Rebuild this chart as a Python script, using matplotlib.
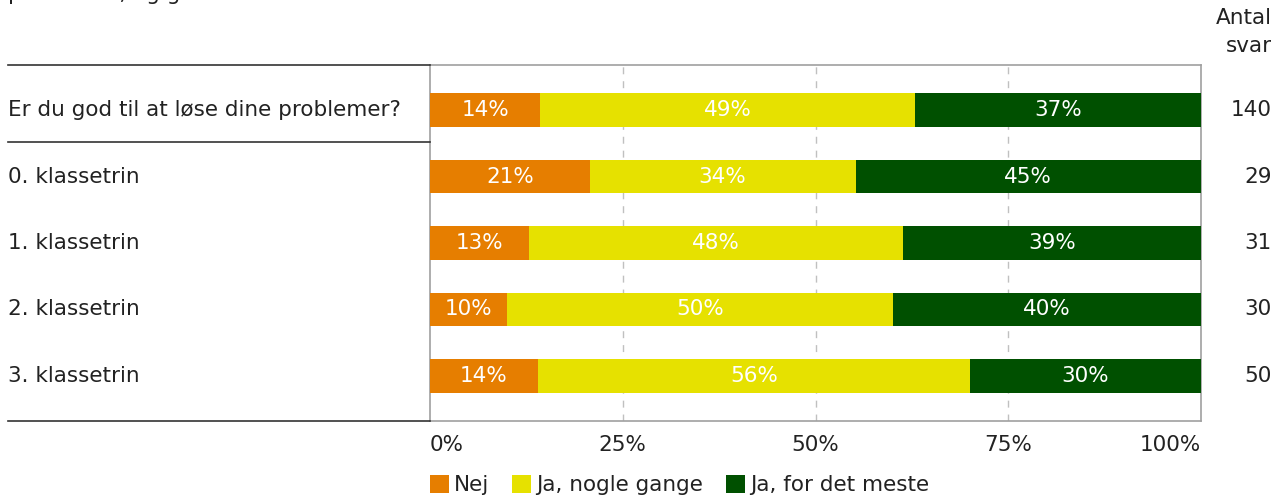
import matplotlib.pyplot as plt
from matplotlib.patches import Patch
from matplotlib.lines import Line2D

# Data
categories = ['Er du god til at løse dine problemer?', '0. klassetrin', '1. klassetrin',
              '2. klassetrin', '3. klassetrin']
nej = [14.3, 20.7, 12.9, 10.0, 14.0]
nogle = [48.6, 34.5, 48.4, 50.0, 56.0]
meste = [37.1, 44.8, 38.7, 40.0, 30.0]
antal = [140, 29, 31, 30, 50]
series_names = ['Nej', 'Ja, nogle gange', 'Ja, for det meste']
colors = ['#e67e00', '#e6e100', '#005000']
xticks = [0, 25, 50, 75, 100]
xticklabels = ['0%', '25%', '50%', '75%', '100%']

FS = 15.5
TXT = '#222222'

fig = plt.figure(figsize=(12.85, 5.0), dpi=100)
ax = fig.add_axes([430 / 1285, 1 - 421 / 500, 771 / 1285, 356 / 500])

ypos = list(range(len(categories)))
left = [0] * len(categories)
for vals, col in zip([nej, nogle, meste], colors):
    ax.barh(ypos, vals, left=left, height=0.5, color=col, zorder=3)
    for y, v, l in zip(ypos, vals, left):
        ax.text(l + v / 2, y, f'{v:.0f}%', ha='center', va='center',
                color='white', fontsize=FS, zorder=4)
    left = [a + b for a, b in zip(left, vals)]

ax.set_xlim(0, 100)
ax.set_ylim(4.677, -0.677)
ax.set_yticks([])
ax.set_xticks([])
for x in xticks[1:-1]:
    ax.axvline(x, color='#c0c0c0', linestyle=(0, (5, 5)), linewidth=1, zorder=1)
for s in ax.spines.values():
    s.set_color('#a0a0a0')
    s.set_linewidth(1.2)

# x tick labels below the frame
for x, lab in zip(xticks, xticklabels):
    ha = 'left' if x == 0 else ('right' if x == 100 else 'center')
    ax.text(x, 5.04, lab, ha=ha, va='center', fontsize=FS, color=TXT)

# category labels and counts
for y, cat, n in zip(ypos, categories, antal):
    ax.text(-0.547, y, cat, transform=ax.get_yaxis_transform(), ha='left', va='center',
            fontsize=FS, color=TXT)
    ax.text(1.092, y, str(n), transform=ax.get_yaxis_transform(), ha='right',
            va='center', fontsize=FS, color=TXT)

fig.text(1272 / 1285, 1 - 32 / 500, 'Antal\nsvar', ha='right', va='center',
         fontsize=FS, color=TXT, linespacing=1.45)

# header text that runs off the top edge
fig.text(8 / 1285, 1.0, 'problemer, og gode', ha='left', va='baseline',
         fontsize=FS, color=TXT)

# left-side rule lines
for yy in [65, 142, 421]:
    fig.add_artist(Line2D([8 / 1285, 430 / 1285], [1 - yy / 500, 1 - yy / 500],
                          color='#333333', linewidth=1.2, transform=fig.transFigure))

# legend
handles = [Patch(facecolor=c, edgecolor='none', label=n) for c, n in zip(colors, series_names)]
ax.legend(handles=handles, loc='center left', bbox_to_anchor=(0, -0.181), ncol=3,
          frameon=False, borderpad=0, borderaxespad=0, handlelength=0.86, handleheight=0.86,
          handletextpad=0.23, columnspacing=1.1, fontsize=FS, labelcolor=TXT)

fig.savefig('out.png', dpi=100)
